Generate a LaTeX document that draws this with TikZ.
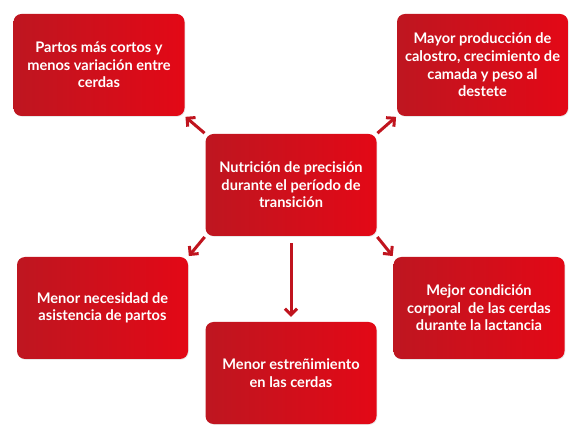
\documentclass[tikz,border=0pt]{standalone}
\usepackage{fontspec}
\setmainfont{Lato}
\usetikzlibrary{arrows.meta,shadows}
\definecolor{boxdark}{RGB}{190,22,32}
\definecolor{boxlight}{RGB}{227,8,22}
\definecolor{arrowred}{RGB}{192,20,30}
\begin{document}
\begin{tikzpicture}[x=1pt, y=1pt,
        effect/.style={rounded corners=8pt, left color=boxdark, right color=boxlight,
            minimum width=171pt, minimum height=102pt, text=white, align=center,
            font=\fontsize{14.6}{17.6}\selectfont\bfseries,
            drop shadow={opacity=0.18, shadow xshift=0.8pt, shadow yshift=-0.8pt}},
        link/.style={-{Straight Barb[length=6pt, width=12pt]}, line width=3pt, arrowred}]
        \useasboundingbox (0,0) rectangle (580,436);
        % Central box
        \node[effect] (center) at (291,251) {Nutrición de precisión\\durante el período de\\transición};
        % Outcomes
        \node[effect] (shortbirth) at (99,371) {Partos más cortos y\\menos variación entre\\cerdas};
        \node[effect] (colostrum) at (482.5,371) {Mayor producción de\\calostro, crecimiento de\\camada y peso al\\destete};
        \node[effect] (assist) at (102.5,128) {Menor necesidad de\\asistencia de partos};
        \node[effect] (condition) at (479,128) {Mejor condición\\corporal\ \ de las cerdas\\durante la lactancia};
        \node[effect] (constip) at (291,63) {Menor estreñimiento\\en las cerdas};
        % Arrows
        \draw[link, shorten <=1pt, shorten >=1pt] (center.north west) -- (shortbirth.south east);
        \draw[link, shorten <=1pt, shorten >=1pt] (center.north east) -- (colostrum.south west);
        \draw[link, shorten <=1pt, shorten >=1pt] (center.south west) -- (assist.north east);
        \draw[link, shorten <=1pt, shorten >=1pt] (center.south east) -- (condition.north west);
        \draw[link, shorten <=7pt, shorten >=5pt] (center.south) -- (constip.north);
\end{tikzpicture}
\end{document}
